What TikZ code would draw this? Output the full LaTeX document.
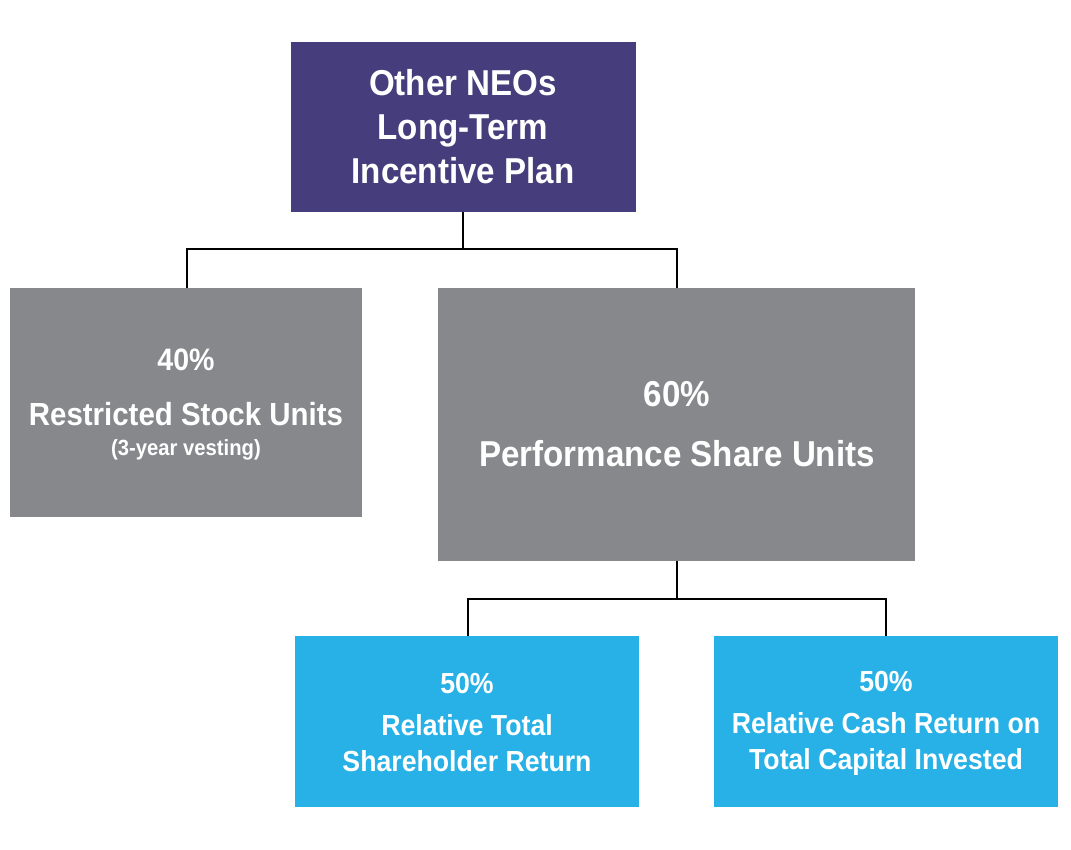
\documentclass[tikz,border=0pt]{standalone}
\usepackage{fontspec}
\setmainfont[FakeStretch=0.92]{Liberation Sans}
\definecolor{purp}{HTML}{463D7D}
\definecolor{gr}{HTML}{87888C}
\definecolor{cy}{HTML}{27B1E6}
\begin{document}
\begin{tikzpicture}[x=1pt,y=-1pt,
  box/.style={inner sep=0pt,text=white,font=\bfseries,align=center},
  conn/.style={line width=1.6pt,black}]
\useasboundingbox (0,0) rectangle (1071,850);
\fill[purp] (291,42) rectangle (636,212);
\fill[gr] (10,288) rectangle (362,517);
\fill[gr] (438,288) rectangle (915,561);
\fill[cy] (295,636) rectangle (639,807);
\fill[cy] (714,636) rectangle (1058,807);
\node[box,font=\bfseries\fontsize{36}{44}\selectfont] (top) at (463,127) {Other NEOs\\ Long-Term\\Incentive Plan};
\node[box,font=\bfseries\fontsize{31}{50}\selectfont] (rsu) at (186,360) {40\%};
\node[box,font=\bfseries\fontsize{32}{50}\selectfont] (rsu2) at (186,414) {Restricted Stock Units};
\node[box,font=\bfseries\fontsize{22}{30}\selectfont] (rsu3) at (186,450) {(3-year vesting)};
\node[box,font=\bfseries\fontsize{36}{60}\selectfont] (psu) at (677,424) {60\%\\Performance Share Units};
\node[box,font=\bfseries\fontsize{29}{36}\selectfont] (tsr) at (467,723) {50\%\\[6pt]Relative Total\\Shareholder Return};
\node[box,font=\bfseries\fontsize{29}{36}\selectfont] (cr) at (886,723) {50\%\\[6pt]Relative Cash Return on\\Total Capital Invested};
\coordinate (a) at (463,212); \coordinate (b) at (187,288); \coordinate (c) at (677,288);
\draw[conn] (a) -- (463,249) -| (b);
\draw[conn] (463,249) -| (c);
\coordinate (d) at (677,561); \coordinate (e) at (468,636); \coordinate (f) at (886,636);
\draw[conn] (d) -- (677,599) -| (e);
\draw[conn] (677,599) -| (f);
\end{tikzpicture}
\end{document}
